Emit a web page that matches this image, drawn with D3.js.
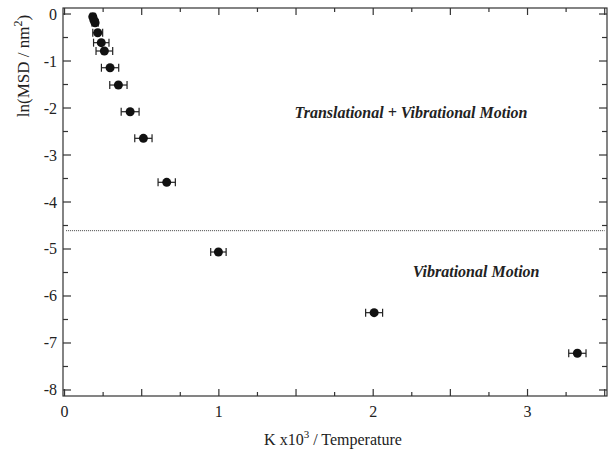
<!DOCTYPE html>
<html>
<head>
<meta charset="utf-8">
<script src="https://cdn.jsdelivr.net/npm/d3@7"></script>
<style>
  html, body { margin:0; padding:0; background:#fff; }
  svg text { font-family:"Liberation Serif","DejaVu Serif",serif; fill:#222; }
</style>
</head>
<body>
<svg id="chart" width="608" height="454"></svg>
<script>
/* ---------- data ---------- */
const invT   = [0.183, 0.190, 0.198, 0.215, 0.238, 0.258, 0.295, 0.349, 0.425, 0.511, 0.662, 0.997, 2.006, 3.323];
const lnMSD  = [-0.057, -0.128, -0.185, -0.398, -0.610, -0.787, -1.143, -1.511, -2.079, -2.645, -3.581, -5.064, -6.355, -7.219];
const xErr   = [0.015, 0.015, 0.020, 0.032, 0.050, 0.054, 0.056, 0.056, 0.058, 0.056, 0.056, 0.050, 0.055, 0.056];
const boundaryY = -4.61;
const xTickLabels = [0, 1, 2, 3];
const yTickLabels = [0, -1, -2, -3, -4, -5, -6, -7, -8];
const notes = [
  { text: "Translational + Vibrational Motion", x: 2.245, y: -2.21 },
  { text: "Vibrational Motion", x: 2.667, y: -5.6 }
];

/* ---------- layout ---------- */
const svg = d3.select("#chart");
const L = 63, R = 607, T = 8, B = 396;
const x = d3.scaleLinear().domain([-0.01, 3.515]).range([L, R]);
const y = d3.scaleLinear().domain([-8.128, 0.128]).range([B, T]);
const axisCol = "#333";

/* ---------- frame + ticks (all inward) ---------- */
const xTicks = d3.range(0, 3.51, 0.25);
const yTicks = d3.range(-8, 0.01, 0.5);

const g = svg.append("g").attr("stroke", axisCol).attr("stroke-width", 1.2);
g.append("rect").attr("x", L).attr("y", T).attr("width", R - L).attr("height", B - T)
  .attr("fill", "none");

const isHalf = v => Math.abs(v * 2 - Math.round(v * 2)) < 1e-6;
const isInt  = v => Math.abs(v - Math.round(v)) < 1e-6;

// bottom & top
xTicks.forEach(v => {
  const len = isHalf(v) ? 7 : 4;
  g.append("line").attr("x1", x(v)).attr("x2", x(v)).attr("y1", B).attr("y2", B - len);
  g.append("line").attr("x1", x(v)).attr("x2", x(v)).attr("y1", T).attr("y2", T + len);
});
// left & right
yTicks.forEach(v => {
  const len = isInt(v) ? 8 : 5;
  g.append("line").attr("x1", L).attr("x2", L + len).attr("y1", y(v)).attr("y2", y(v));
  g.append("line").attr("x1", R).attr("x2", R - len).attr("y1", y(v)).attr("y2", y(v));
});

/* ---------- tick labels ---------- */
svg.append("g").selectAll("text").data(xTickLabels).join("text")
  .attr("x", d => x(d)).attr("y", 417)
  .attr("text-anchor", "middle").attr("font-size", 16)
  .text(d => d);

svg.append("g").selectAll("text").data(yTickLabels).join("text")
  .attr("x", 57).attr("y", d => y(d) + 5.5)
  .attr("text-anchor", "end").attr("font-size", 16)
  .text(d => d);

/* ---------- axis titles ---------- */
const xt = svg.append("text").attr("x", 333).attr("y", 445)
  .attr("text-anchor", "middle").attr("font-size", 16);
xt.append("tspan").text("K x10");
xt.append("tspan").attr("dy", -7).attr("font-size", 11).text("3");
xt.append("tspan").attr("dy", 7).text("  / Temperature");

const yt = svg.append("text").attr("transform", "translate(29,66) rotate(-90)")
  .attr("text-anchor", "middle").attr("font-size", 17);
yt.append("tspan").text("ln(MSD / nm");
yt.append("tspan").attr("dy", -7).attr("font-size", 12).text("2");
yt.append("tspan").attr("dy", 7).text(")");

/* ---------- boundary line ---------- */
svg.append("line")
  .attr("x1", x(0.01)).attr("x2", x(3.5))
  .attr("y1", y(boundaryY)).attr("y2", y(boundaryY))
  .attr("stroke", "#444").attr("stroke-width", 1).attr("stroke-dasharray", "1,1");

/* ---------- points with x error bars ---------- */
const pts = invT.map((v, i) => ({ x: v, y: lnMSD[i], e: xErr[i] }));
const pg = svg.append("g");
pts.forEach(p => {
  const cy = y(p.y), x0 = x(p.x - p.e), x1 = x(p.x + p.e);
  pg.append("line").attr("x1", x0).attr("x2", x1).attr("y1", cy).attr("y2", cy)
    .attr("stroke", "#222").attr("stroke-width", 1.2);
  [x0, x1].forEach(cx => pg.append("line").attr("x1", cx).attr("x2", cx)
    .attr("y1", cy - 4).attr("y2", cy + 4).attr("stroke", "#222").attr("stroke-width", 1.2));
});
pg.selectAll("circle").data(pts).join("circle")
  .attr("cx", d => x(d.x)).attr("cy", d => y(d.y)).attr("r", 4.5)
  .attr("fill", "#111");

/* ---------- region notes ---------- */
svg.append("g").selectAll("text").data(notes).join("text")
  .attr("x", d => x(d.x)).attr("y", d => y(d.y))
  .attr("text-anchor", "middle").attr("font-size", 16)
  .attr("font-weight", "bold").attr("font-style", "italic")
  .text(d => d.text);
</script>
</body>
</html>
